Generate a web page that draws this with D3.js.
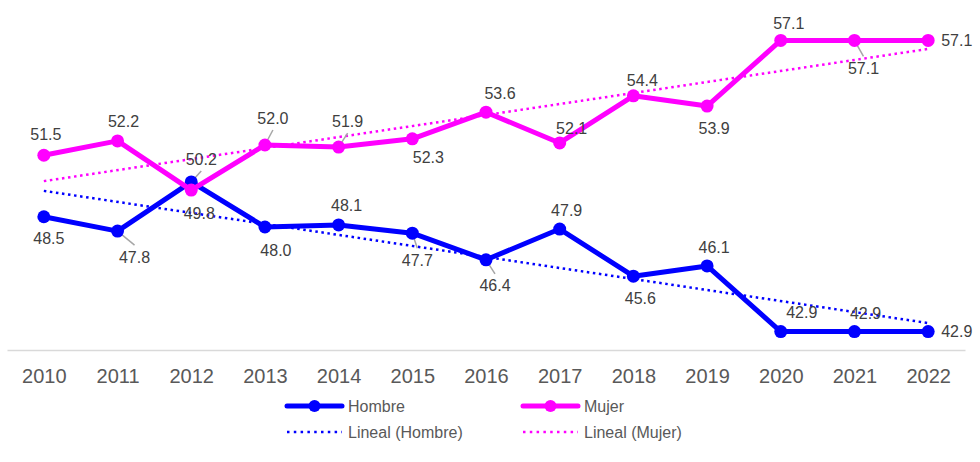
<!DOCTYPE html>
<html>
<head>
<meta charset="utf-8">
<script src="https://cdn.jsdelivr.net/npm/d3@7"></script>
<style>
  body { margin: 0; background: #fff; }
  svg { display: block; font-family: "Liberation Sans", Arial, sans-serif; }
</style>
</head>
<body>
<div id="chart"></div>
<script>
// Data
var years = ["2010", "2011", "2012", "2013", "2014", "2015", "2016", "2017", "2018", "2019", "2020", "2021", "2022"];
var hombre = [48.5, 47.8, 50.2, 48.0, 48.1, 47.7, 46.4, 47.9, 45.6, 46.1, 42.9, 42.9, 42.9];
var mujer = [51.5, 52.2, 49.8, 52.0, 51.9, 52.3, 53.6, 52.1, 54.4, 53.9, 57.1, 57.1, 57.1];

// label offsets from each point [dx, dy, leader, anchor]
var hombreLabelPos = [
  [5, 22], [17, 26, true], [10, -23, true], [11, 23], [8, -20], [5, 27, true], [9, 26, true],
  [7, -19], [7, 22], [7, -19], [21, -19], [11, -18], [13, 0, false, "start"]
];
var mujerLabelPos = [
  [2, -21], [6, -20], [8, 23], [8, -27, true], [9, -26, true], [16, 19], [14, -19],
  [12, -15], [9, -15], [7, 22], [8, -17], [9, 28, true], [13, 0, false, "start"]
];

var width = 980, height = 462;
var blue = "#0000ff", pink = "#ff00ff";

var svg = d3.select("#chart").append("svg")
  .attr("width", width)
  .attr("height", height);

var x = d3.scalePoint().domain(years).range([7, 965]).padding(0.5);
var y = d3.scaleLinear().domain([42, 58]).range([350, 22]);

// x axis
var xAxis = svg.append("g")
  .attr("transform", "translate(0,350)")
  .call(d3.axisBottom(x).tickSize(0).tickSizeOuter(0).tickPadding(19));
xAxis.select(".domain").attr("stroke", "#d9d9d9").attr("stroke-width", 1.5);
xAxis.selectAll("text")
  .attr("fill", "#595959")
  .style("font-size", "20px")
  .style("font-family", "Liberation Sans, Arial, sans-serif");

// linear trend (least squares)
function trend(values) {
  var n = values.length;
  var mx = d3.mean(values, function (d, i) { return i; });
  var my = d3.mean(values);
  var num = 0, den = 0;
  values.forEach(function (v, i) {
    num += (i - mx) * (v - my);
    den += (i - mx) * (i - mx);
  });
  var b = num / den, a = my - b * mx;
  return [[0, a], [n - 1, a + b * (n - 1)]];
}

function drawTrend(values, color) {
  var t = trend(values);
  svg.append("line")
    .attr("x1", x(years[t[0][0]])).attr("y1", y(t[0][1]))
    .attr("x2", x(years[t[1][0]])).attr("y2", y(t[1][1]))
    .attr("stroke", color)
    .attr("stroke-width", 2.5)
    .attr("stroke-dasharray", "2.5 3.6");
}

drawTrend(mujer, pink);
drawTrend(hombre, blue);

var line = d3.line()
  .x(function (d, i) { return x(years[i]); })
  .y(function (d) { return y(d); });

function drawSeries(values, color, labelPos) {
  // leader lines
  values.forEach(function (v, i) {
    var p = labelPos[i];
    if (!p[2]) return;
    var px = x(years[i]), py = y(v);
    var ey = py + p[1] + (p[1] > 0 ? -12 : 12);
    svg.append("line")
      .attr("x1", px).attr("y1", py)
      .attr("x2", px + p[0]).attr("y2", ey)
      .attr("stroke", "#a6a6a6")
      .attr("stroke-width", 1.5);
  });

  svg.append("path")
    .datum(values)
    .attr("fill", "none")
    .attr("stroke", color)
    .attr("stroke-width", 5)
    .attr("stroke-linejoin", "round")
    .attr("d", line);

  svg.selectAll(null)
    .data(values)
    .enter().append("circle")
    .attr("cx", function (d, i) { return x(years[i]); })
    .attr("cy", function (d) { return y(d); })
    .attr("r", 6.5)
    .attr("fill", color);

  svg.selectAll(null)
    .data(values)
    .enter().append("text")
    .attr("x", function (d, i) { return x(years[i]) + labelPos[i][0]; })
    .attr("y", function (d, i) { return y(d) + labelPos[i][1]; })
    .attr("dy", "0.35em")
    .attr("text-anchor", function (d, i) { return labelPos[i][3] || "middle"; })
    .attr("fill", "#404040")
    .style("font-size", "16px")
    .text(function (d) { return d.toFixed(1); });
}

drawSeries(hombre, blue, hombreLabelPos);
drawSeries(mujer, pink, mujerLabelPos);

// Legend
var legendItems = [
  { name: "Hombre", color: blue, dotted: false, x: 287, y: 406 },
  { name: "Mujer", color: pink, dotted: false, x: 523, y: 406 },
  { name: "Lineal (Hombre)", color: blue, dotted: true, x: 287, y: 432 },
  { name: "Lineal (Mujer)", color: pink, dotted: true, x: 523, y: 432 }
];

var legend = svg.append("g");
legendItems.forEach(function (d) {
  var g = legend.append("g").attr("transform", "translate(" + d.x + "," + d.y + ")");
  g.append("line")
    .attr("x1", 0).attr("x2", 55)
    .attr("stroke", d.color)
    .attr("stroke-width", d.dotted ? 2.5 : 5)
    .attr("stroke-dasharray", d.dotted ? "2.5 4.3" : null)
    .attr("stroke-linecap", d.dotted ? "butt" : "round");
  if (!d.dotted) {
    g.append("circle").attr("cx", 27.5).attr("r", 6).attr("fill", d.color);
  }
  g.append("text")
    .attr("x", 61)
    .attr("dy", "0.35em")
    .attr("fill", "#595959")
    .style("font-size", "16px")
    .text(d.name);
});
</script>
</body>
</html>
